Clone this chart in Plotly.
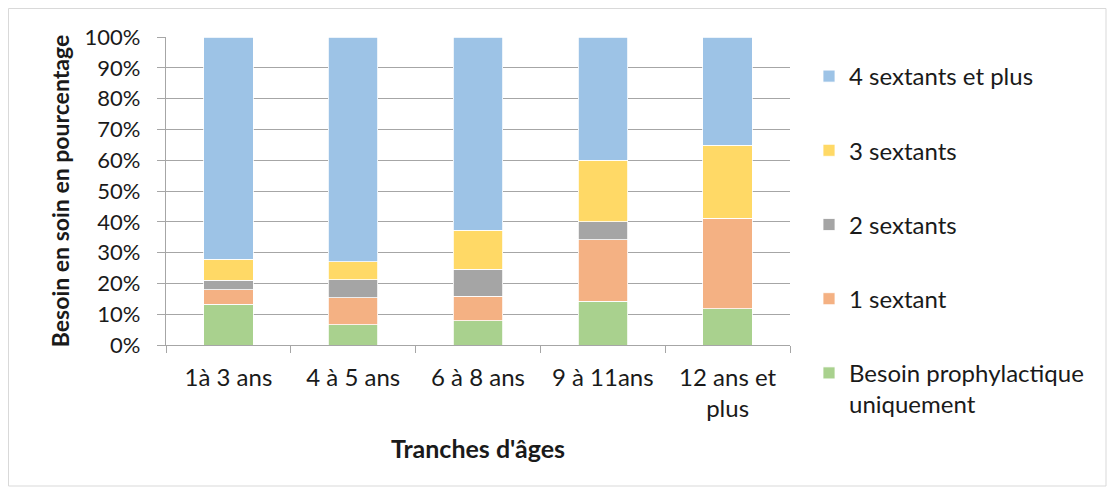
import plotly.graph_objects as go

categories = ["1à 3 ans", "4 à 5 ans", "6 à 8 ans", "9 à 11ans", "12 ans et<br>plus"]
series_names = ["Besoin prophylactique<br>uniquement", "1 sextant", "2 sextants", "3 sextants", "4 sextants et plus"]
prophylactique = [13.2, 6.6, 7.9, 14.2, 11.7]
un_sextant = [4.7, 8.7, 8.0, 20.0, 29.4]
deux_sextants = [3.2, 5.9, 8.7, 5.8, 0.0]
trois_sextants = [6.7, 5.8, 12.7, 20.0, 23.7]
quatre_plus = [72.2, 73.0, 62.7, 40.0, 35.2]
tick_vals = [0, 10, 20, 30, 40, 50, 60, 70, 80, 90, 100]
tick_text = ["0%", "10%", "20%", "30%", "40%", "50%", "60%", "70%", "80%", "90%", "100%"]

colors = ["#A9D18E", "#F4B183", "#A5A5A5", "#FFD966", "#9DC3E6"]
values = [prophylactique, un_sextant, deux_sextants, trois_sextants, quatre_plus]

FONT = "Lato, 'Open Sans', sans-serif"

fig = go.Figure()
n = len(series_names)
for i, (name, vals, col) in enumerate(zip(series_names, values, colors)):
    fig.add_trace(go.Bar(
        x=categories, y=vals, name=name, legendgroup=f"g{i}", legendrank=n - i,
        marker=dict(color=col, line=dict(color="white", width=0.8)),
    ))

# page body has an 8px margin; figure coordinates below are screen - 8
W, H = 1099, 479
L, R, T, B = 158, 317, 29, 142
pw = W - L - R
ph = H - T - B

def px(x):
    return (x - L) / pw

def py(y):
    return (H - B - y) / ph

fig.update_layout(
    width=W, height=H,
    barmode="stack", bargap=0.603,
    plot_bgcolor="white", paper_bgcolor="white",
    margin=dict(l=L, r=R, t=T, b=B, autoexpand=False),
    font=dict(family=FONT, size=24, color="#1a1a1a"),
    legend=dict(
        traceorder="grouped", tracegroupgap=40,
        x=px(801), y=py(46), xanchor="left", yanchor="top",
        font=dict(size=24), valign="top", itemwidth=30,
        maxheight=400,
    ),
    xaxis=dict(
        showline=True, linecolor="#A6A6A6", linewidth=1.3,
        ticks="outside", tickson="boundaries", ticklen=7, tickcolor="#A6A6A6",
        ticklabelstandoff=11,
        title=dict(text="<b>Tranches d'âges</b>", font=dict(size=25), standoff=19),
        tickfont=dict(size=24),
    ),
    yaxis=dict(
        range=[0, 100], tickvals=tick_vals, ticktext=tick_text,
        showgrid=True, gridcolor="#A6A6A6", gridwidth=1.3,
        showline=True, linecolor="#A6A6A6", linewidth=1.3,
        ticks="outside", ticklen=8, tickcolor="#A6A6A6",
        ticklabelstandoff=12,
        title=dict(text="<b>Besoin en soin en pourcentage</b>", font=dict(size=23), standoff=8),
        tickfont=dict(size=22), zeroline=False,
    ),
    shapes=[dict(type="rect", xref="paper", yref="paper",
                 x0=px(0.5), x1=px(W - 1), y0=py(H - 1), y1=py(0.5),
                 line=dict(color="#D9D9D9", width=1), layer="below")],
)

fig.write_html("out.html")
